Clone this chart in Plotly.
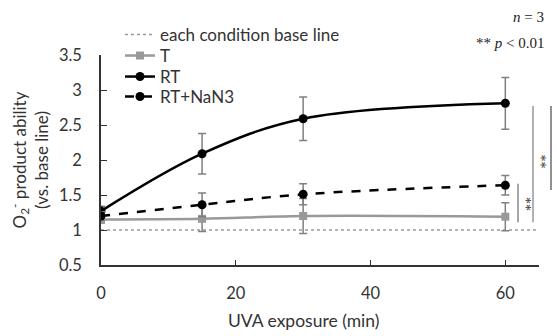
import plotly.graph_objects as go

time_min = [0, 15, 30, 60]
t_vals = [1.15, 1.16, 1.20, 1.19]
t_err = [0.05, 0.18, 0.25, 0.20]
rt_vals = [1.27, 2.09, 2.59, 2.81]
rt_err = [0.07, 0.29, 0.31, 0.37]
nan3_vals = [1.20, 1.36, 1.51, 1.64]
nan3_err = [0.06, 0.17, 0.15, 0.14]
baseline_x = [0, 64.6]
baseline_y = [1, 1]
x_ticks = [0, 20, 40, 60]
y_ticks = [0.5, 1, 1.5, 2, 2.5, 3, 3.5]

FONT = "Lato"
GRAY = "#999999"
ERR = "#808080"

fig = go.Figure()
fig.add_trace(go.Scatter(x=baseline_x, y=baseline_y, mode="lines",
                         name="each condition base line", legend="legend",
                         line=dict(color="#9a9a9a", width=1.5, dash="dot")))
fig.add_trace(go.Scatter(x=time_min, y=t_vals, mode="lines+markers", name="T", legend="legend2",
                         line=dict(color=GRAY, width=2.5, shape="spline"),
                         marker=dict(symbol="square", size=8, color=GRAY),
                         error_y=dict(type="data", array=t_err, color=ERR, thickness=1.5, width=4)))
fig.add_trace(go.Scatter(x=time_min, y=rt_vals, mode="lines+markers", name="RT", legend="legend3",
                         line=dict(color="black", width=2.5, shape="spline"),
                         marker=dict(symbol="circle", size=9, color="black"),
                         error_y=dict(type="data", array=rt_err, color=ERR, thickness=1.5, width=4)))
fig.add_trace(go.Scatter(x=time_min, y=nan3_vals, mode="lines+markers", name="RT+NaN3", legend="legend4",
                         line=dict(color="black", width=2.5, dash="dash", shape="spline"),
                         marker=dict(symbol="circle", size=9, color="black"),
                         error_y=dict(type="data", array=nan3_err, color=ERR, thickness=1.5, width=4)))

L, R, T_, B = 101, 18, 55, 71
W, H = 557, 336
pw = W - L - R
ph = H - T_ - B

def px2paper(px):
    return (px - L) / pw

def py2paper(py):
    return (H - B - py) / ph

# significance brackets
sig = [(518, 1.66, 1.11, 526, 1.37, "#777777"),
       (533, 2.77, 1.11, 541, 1.98, "#888888"),
       (551, 2.77, 1.57, 560, 2.2, "#555555")]
for xp, y0, y1, ax, ay, col in sig:
    fig.add_shape(type="line", xref="paper", yref="y", x0=px2paper(xp), x1=px2paper(xp),
                  y0=y0, y1=y1, line=dict(color=col, width=1.3))
    fig.add_annotation(xref="paper", yref="y", x=px2paper(ax), y=ay, text="**",
                       showarrow=False, textangle=90, xanchor="center", yanchor="middle",
                       font=dict(family="Liberation Serif", size=14, color="#333"))

fig.add_annotation(xref="paper", yref="paper", x=px2paper(546), y=py2paper(17),
                   text="<i>n</i> = 3", showarrow=False, xanchor="right", yanchor="middle",
                   font=dict(family="Liberation Serif", size=15, color="#222"))
fig.add_annotation(xref="paper", yref="paper", x=px2paper(546), y=py2paper(43),
                   text="** <i>p</i> < 0.01", showarrow=False, xanchor="right", yanchor="middle",
                   font=dict(family="Liberation Serif", size=15, color="#222"))
fig.add_annotation(xref="x", yref="paper", x=30, y=py2paper(320),
                   text="UVA exposure (min)", showarrow=False, yanchor="middle",
                   font=dict(family=FONT, size=17.5, color="#333"))

def leg(row_y):
    return dict(x=px2paper(120), y=py2paper(row_y), xanchor="left", yanchor="middle",
                bgcolor="rgba(0,0,0,0)", font=dict(family=FONT, size=17, color="#333"),
                itemwidth=30)

fig.update_layout(
    width=W, height=H,
    margin=dict(l=L, r=R, t=T_, b=B),
    plot_bgcolor="white", paper_bgcolor="white",
    font=dict(family=FONT, size=16, color="#333"),
    showlegend=True,
    legend=leg(35), legend2=leg(56), legend3=leg(77), legend4=leg(97),
    xaxis=dict(range=[0, 65], tickvals=x_ticks, ticks="inside", ticklen=5, tickcolor="#333",
               showline=True, linecolor="#333", linewidth=1.5, showgrid=False, zeroline=False,
               ticklabelstandoff=12, tickfont=dict(size=16.5)),
    yaxis=dict(range=[0.5, 3.5], tickvals=y_ticks, ticktext=["0.5", "1", "1.5", "2", "2.5", "3", "3.5"],
               ticks="inside", ticklen=6, tickcolor="#333",
               showline=True, linecolor="#333", linewidth=1.5, showgrid=False, zeroline=False,
               ticklabelstandoff=14, tickfont=dict(size=16.5),
               title=dict(text="O<sub>2</sub><sup>-</sup> product ability<br>(vs. base line)",
                          font=dict(size=17), standoff=6)),
)

fig.write_html("out.html")
